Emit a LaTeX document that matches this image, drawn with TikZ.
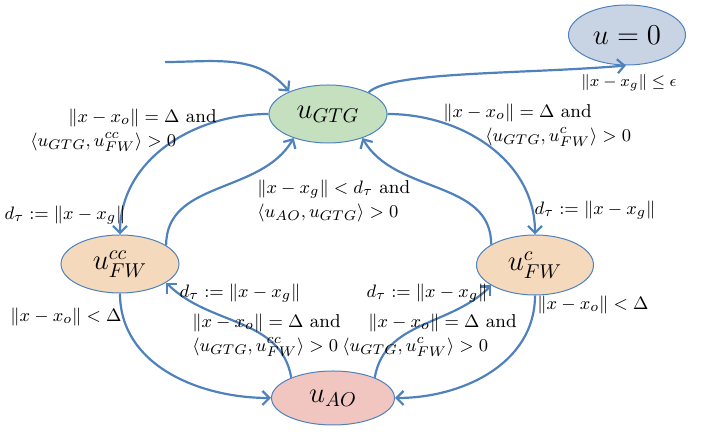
\documentclass[tikz,border=0pt]{standalone}
\usepackage{amsmath}
\usepackage{amssymb}
\usetikzlibrary{arrows.meta,shapes.geometric}
\definecolor{edgeblue}{RGB}{79,129,189}
\definecolor{zerofill}{RGB}{200,212,228}
\definecolor{gtgfill}{RGB}{197,224,190}
\definecolor{fwfill}{RGB}{245,217,188}
\definecolor{aofill}{RGB}{241,197,192}
\begin{document}
\begin{tikzpicture}[x=0.5pt,y=0.5pt,
    state/.style={ellipse, draw=edgeblue, line width=0.5pt, minimum width=59pt, minimum height=29pt, inner sep=0pt, font=\fontsize{14.4}{17}\selectfont},
    trans/.style={draw=edgeblue, line width=1.1pt, -{Straight Barb[length=3.5pt,width=7pt]}},
    cond/.style={inner sep=0pt, font=\fontsize{9.3}{12}\selectfont, align=left}]
    \useasboundingbox (0,0) rectangle (703,438);
    \node[state, fill=zerofill, minimum width=58.5pt, minimum height=30pt] (zero) at (627,403) {$u=0$};
    \node[state, fill=gtgfill] (gtg) at (328,324) {$u_{GTG}$};
    \node[state, fill=fwfill] (fwcc) at (120,174) {$u_{FW}^{cc}$};
    \node[state, fill=fwfill, minimum width=58.5pt, minimum height=30pt] (fwc) at (535,173) {$u_{FW}^{c}$};
    \node[state, fill=aofill, minimum width=61.5pt, minimum height=27pt] (ao) at (333,40) {$u_{AO}$};
    \coordinate (init) at (165,376);

    \draw[trans] (init) to[out=0,in=130] (gtg.150);
    \draw[trans] (gtg.28) to[out=45,in=185,out looseness=0.3] (zero.268);
    \draw[trans] (gtg.west) to[out=180,in=90] (fwcc.north);
    \draw[trans] (gtg.east) to[out=0,in=90] (fwc.north);
    \draw[trans] (fwcc.22) to[out=90,in=240] (gtg.215);
    \draw[trans] (fwc.155) to[out=90,in=300] (gtg.325);
    \draw[trans] (fwcc.south) to[out=270,in=180] (ao.west);
    \draw[trans] (fwc.south) to[out=270,in=0] (ao.east);
    \draw[trans] (ao.154) to[out=100,in=315] (fwcc.338);
    \draw[trans] (ao.26) to[out=80,in=225] (fwc.205);

    \node[cond, font=\fontsize{8.5}{10}\selectfont] (lgoal) at (629,355) {$\|x-x_g\|\leq\epsilon$};
    \node[cond, anchor=west] (lgtgcc) at (30,308) {\hspace*{19pt}$\|x-x_o\|=\Delta$ and\\ $\langle u_{GTG},u_{FW}^{cc}\rangle>0$};
    \node[cond, anchor=west] (lgtgc) at (443,313) {$\|x-x_o\|=\Delta$ and\\ \hspace*{21pt}$\langle u_{GTG},u_{FW}^{c}\rangle>0$};
    \node[cond] (ldcc) at (65,223) {$d_\tau:=\|x-x_g\|$};
    \node[cond] (ldc) at (595,228) {$d_\tau:=\|x-x_g\|$};
    \node[cond, anchor=west] (lback) at (257,237) {$\|x-x_g\|<d_\tau$ and\\ $\langle u_{AO},u_{GTG}\rangle>0$};
    \node[cond] (laocc) at (66,121) {$\|x-x_o\|<\Delta$};
    \node[cond] (laoc) at (593,133) {$\|x-x_o\|<\Delta$};
    \node[cond] (ldaocc) at (240,145) {$d_\tau:=\|x-x_g\|$};
    \node[cond] (ldaoc) at (427,145) {$d_\tau:=\|x-x_g\|$};
    \node[cond, anchor=west] (lfwcc) at (192,103) {$\|x-x_o\|=\Delta$ and\\ $\langle u_{GTG},u_{FW}^{cc}\rangle>0$};
    \node[cond, anchor=west] (lfwc) at (342,103) {\hspace*{13pt}$\|x-x_o\|=\Delta$ and\\ $\langle u_{GTG},u_{FW}^{c}\rangle>0$};
\end{tikzpicture}
\end{document}
